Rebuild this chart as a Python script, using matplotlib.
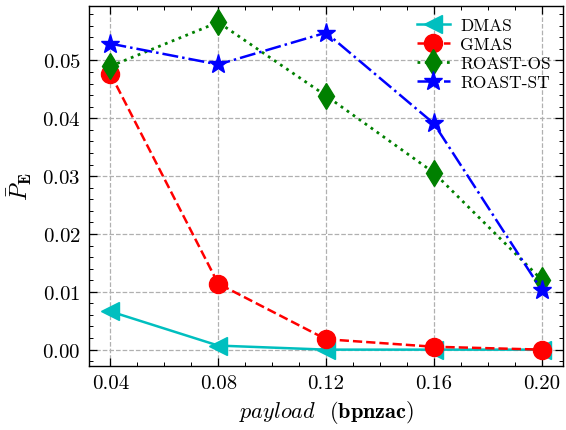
import matplotlib
matplotlib.use("Agg")
import matplotlib.pyplot as plt
from matplotlib.ticker import AutoMinorLocator, MultipleLocator

plt.rcParams.update({
    "font.family": "serif",
    "font.serif": ["cmr10", "DejaVu Serif"],
    "mathtext.fontset": "cm",
    "axes.formatter.use_mathtext": True,
    "font.size": 15,
})

payload = [0.04, 0.08, 0.12, 0.16, 0.20]
dmas = [0.0066, 0.0007, 0.0, 0.0, 0.0]
gmas = [0.0477, 0.0114, 0.0018, 0.0005, 0.0]
roast_os = [0.0490, 0.0566, 0.0439, 0.0306, 0.0121]
roast_st = [0.0529, 0.0493, 0.0548, 0.0391, 0.0103]

fig = plt.figure(figsize=(5.66, 4.31), dpi=100)
ax = fig.add_axes([0.157, 0.1485, 0.838, 0.8355])

ms = 13
ax.plot(payload, dmas, "c-<", lw=1.8, ms=ms, label="DMAS")
ax.plot(payload, gmas, "r--o", lw=1.8, ms=ms, label="GMAS")
ax.plot(payload, roast_os, "g:d", lw=2.0, ms=ms, label="ROAST-OS")
ax.plot(payload, roast_st, "b-.*", lw=1.8, ms=ms + 1, label="ROAST-ST")

ax.set_xticks(payload)
ax.set_xticklabels(["0.04", "0.08", "0.12", "0.16", "0.20"])
ax.yaxis.set_major_locator(MultipleLocator(0.01))
ax.xaxis.set_minor_locator(AutoMinorLocator(4))
ax.yaxis.set_minor_locator(AutoMinorLocator(5))
ax.tick_params(which="both", direction="in", top=True, right=True,
               labelsize=15, pad=6)
ax.tick_params(which="major", length=6, width=0.9)
ax.tick_params(which="minor", length=3, width=0.7)
ax.grid(True, which="major", ls="--", color="#b0b0b0", lw=0.9)
for s in ax.spines.values():
    s.set_linewidth(1.0)

ax.set_xlabel(r"$payload$  ($\mathbf{bpnzac}$)", fontsize=16, labelpad=4)
ax.set_ylabel(r"$\bar{P}_{\mathbf{E}}$", fontsize=17, labelpad=6)

ax.legend(loc="upper right", frameon=False, fontsize=12.5, handlelength=1.9,
          handletextpad=0.6, borderaxespad=0.3, borderpad=0.4,
          labelspacing=0.2)

fig.savefig("out.png", dpi=100)
